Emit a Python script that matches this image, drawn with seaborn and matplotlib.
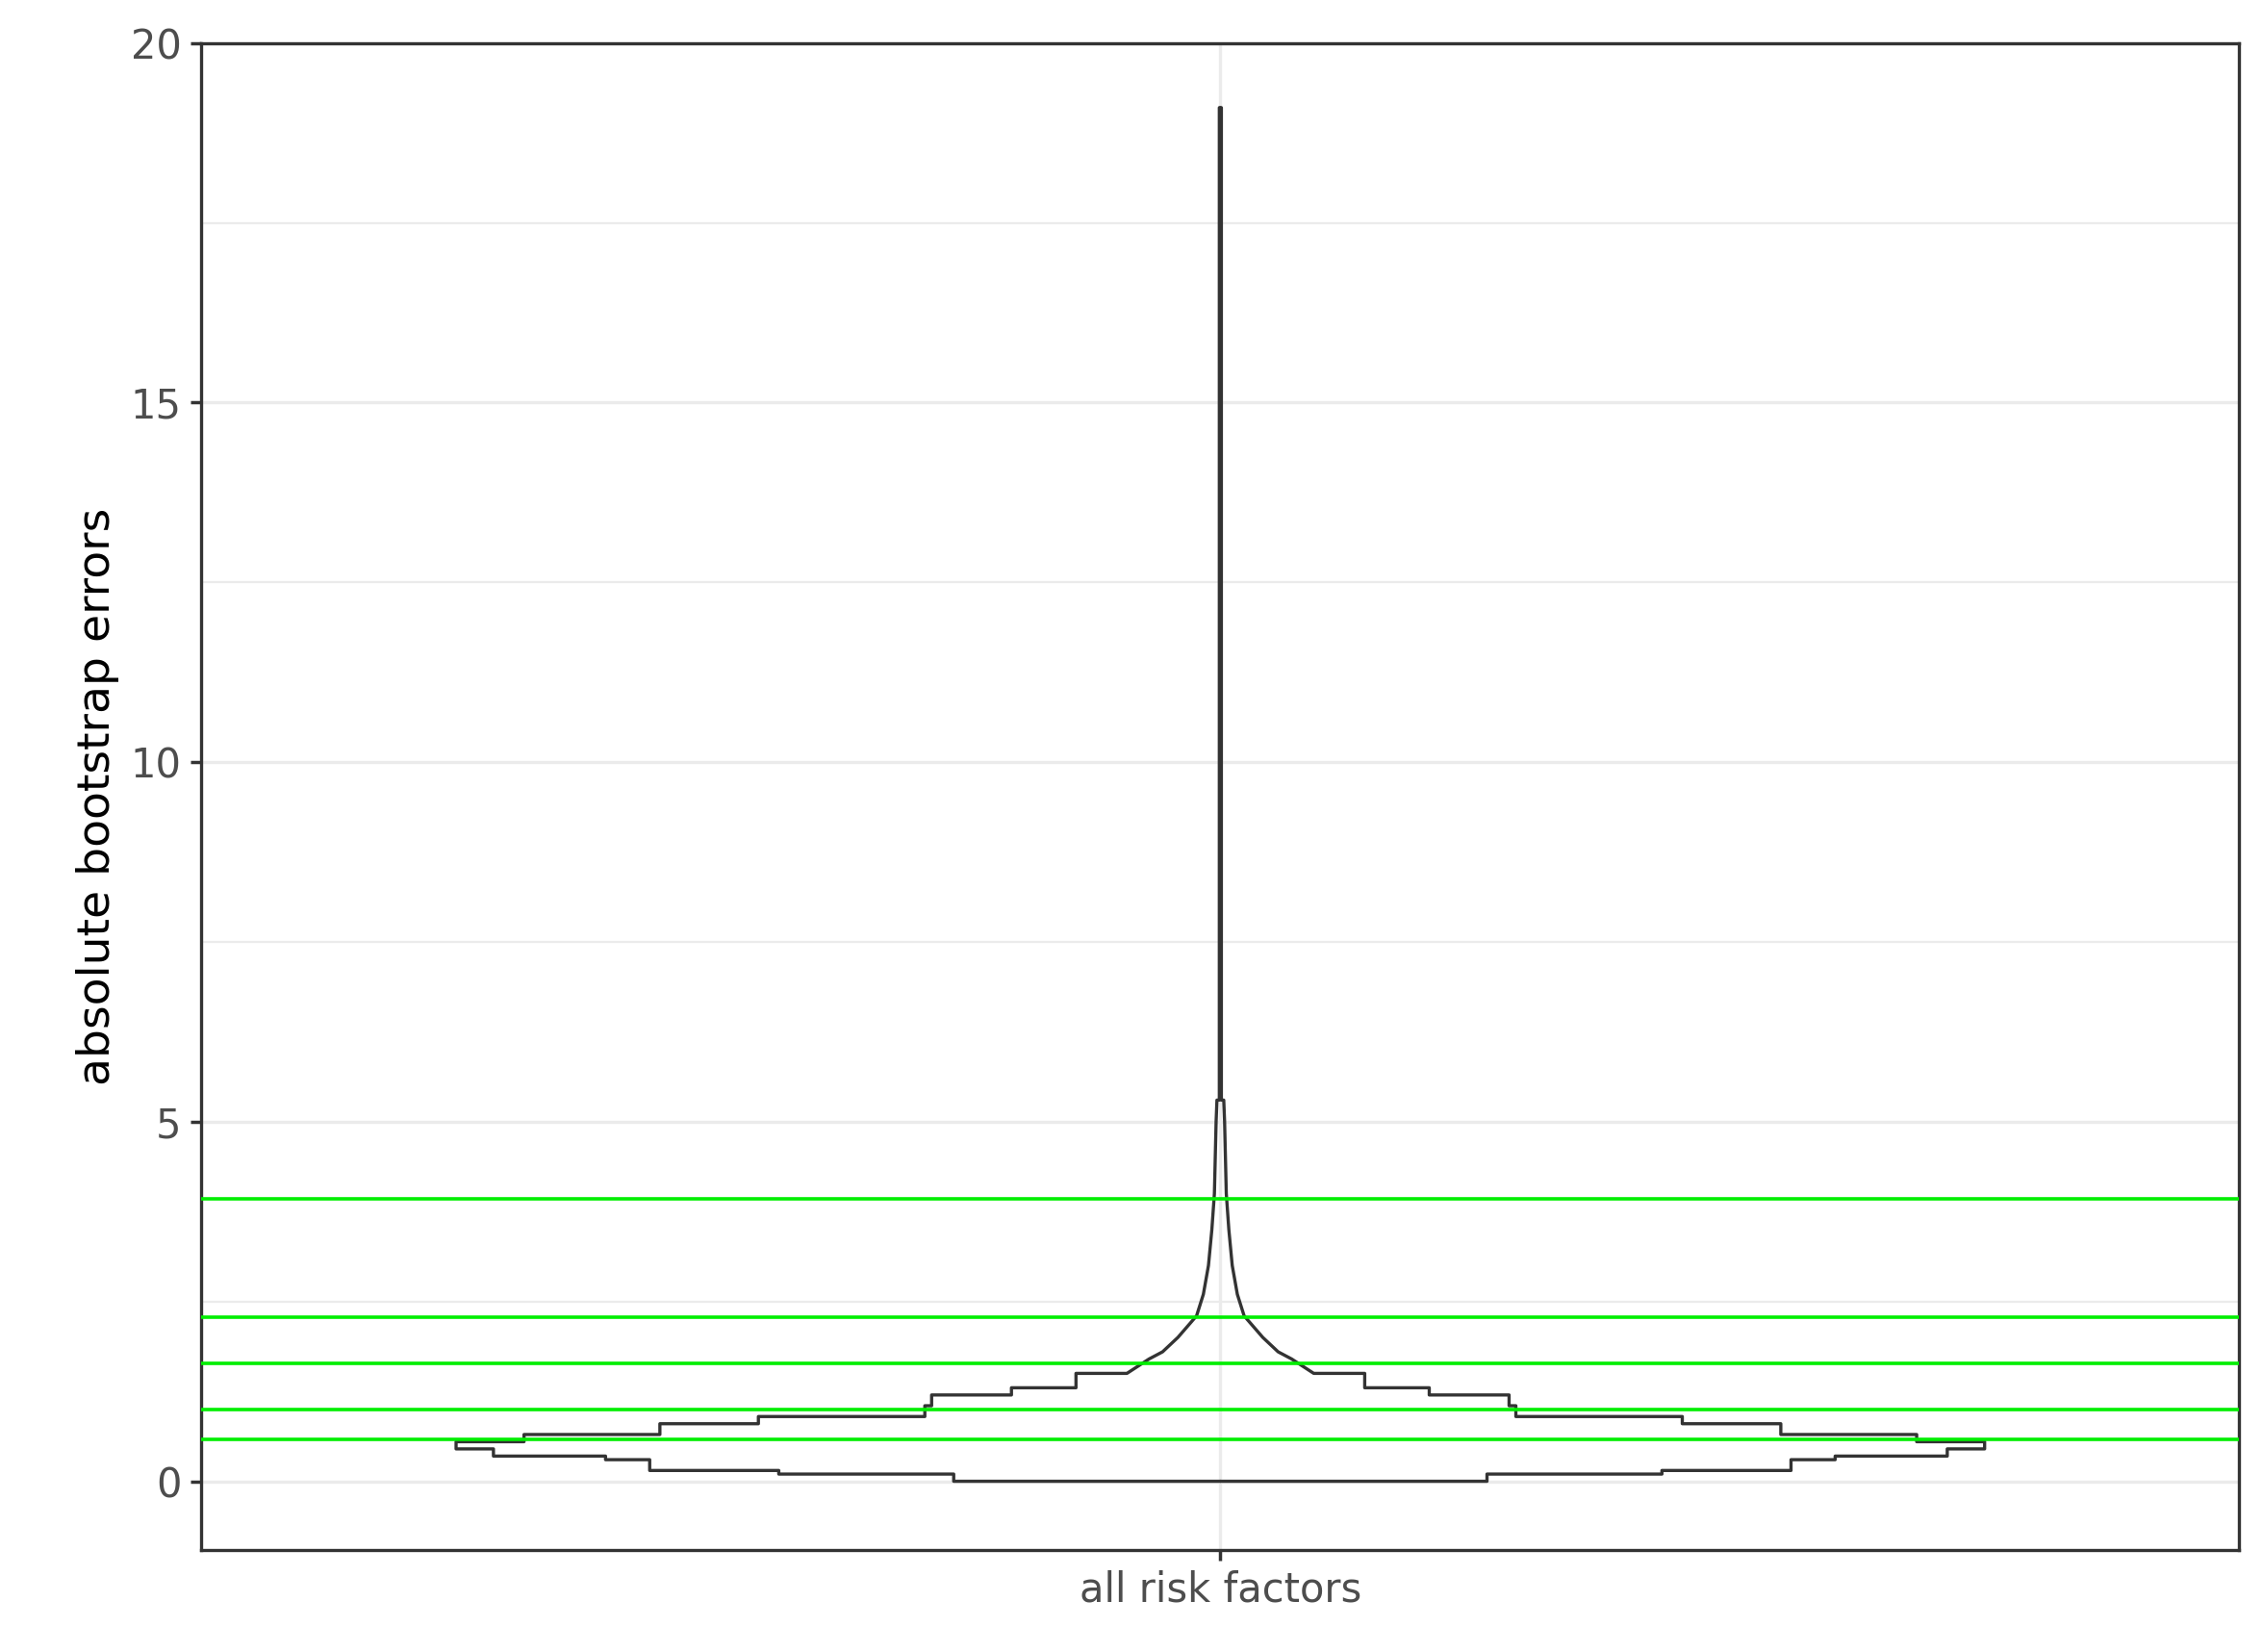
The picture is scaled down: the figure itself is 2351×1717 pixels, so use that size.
import matplotlib
matplotlib.use("Agg")
import matplotlib.pyplot as plt
import seaborn as sns
import pandas as pd

category = "all risk factors"
# violin half-width profile (y value, half-width in category units), stepped outline
prof_y = [0, 0, 0.1, 0.1, 0.15, 0.15, 0.3, 0.3, 0.35, 0.35, 0.45, 0.45, 0.55, 0.55,
          0.65, 0.65, 0.8, 0.8, 0.9, 0.9, 1.05, 1.05, 1.2, 1.2, 1.3, 1.3, 1.5, 1.5,
          1.7, 1.8, 2.0, 2.3, 2.6, 3.0, 3.5, 4.0, 4.5, 5.0, 5.3, 5.3, 19.1, 19.1]
prof_w = [0, 0.157, 0.157, 0.26, 0.26, 0.336, 0.336, 0.362, 0.362, 0.428, 0.428, 0.45, 0.45, 0.41,
          0.41, 0.33, 0.33, 0.272, 0.272, 0.174, 0.174, 0.17, 0.17, 0.123, 0.123, 0.085, 0.085, 0.055,
          0.042, 0.034, 0.025, 0.014, 0.010, 0.007, 0.005, 0.0035, 0.003, 0.0025, 0.002, 0.0006, 0.0006, 0]
hlines = [0.58, 1.0, 1.64, 2.28, 3.93]

sns.set_theme(style="white")
fig = plt.figure(figsize=(11.755, 8.585), dpi=200)
ax = fig.add_axes([0.089, 0.062, 0.901, 0.912])

right = pd.DataFrame({"x": prof_w, "y": prof_y})
left = pd.DataFrame({"x": [-w for w in prof_w], "y": prof_y})
for d in (right, left):
    sns.lineplot(data=d, x="x", y="y", sort=False, estimator=None, color="#333333", lw=1.2, ax=ax)
for h in hlines:
    ax.axhline(h, color="#00ee00", lw=1.3, zorder=3)

ax.set_xlim(-0.6, 0.6)
ax.set_ylim(-0.95, 20)
ax.set_xticks([0])
ax.set_xticklabels([category])
ax.set_yticks([0, 5, 10, 15, 20])
ax.set_yticks([2.5, 7.5, 12.5, 17.5], minor=True)
ax.grid(True, which="major", color="#ebebeb", lw=1.2)
ax.grid(True, which="minor", axis="y", color="#ebebeb", lw=0.8)
ax.set_axisbelow(True)
ax.set_xlabel("")
ax.set_ylabel("absolute bootstrap errors", fontsize=17, color="black")
ax.tick_params(axis="both", labelsize=15, labelcolor="#4d4d4d", length=4, color="#333333",
               left=True, bottom=True)
for s in ax.spines.values():
    s.set_color("#333333")
    s.set_linewidth(1.2)
fig.savefig("out.png", dpi=200)
